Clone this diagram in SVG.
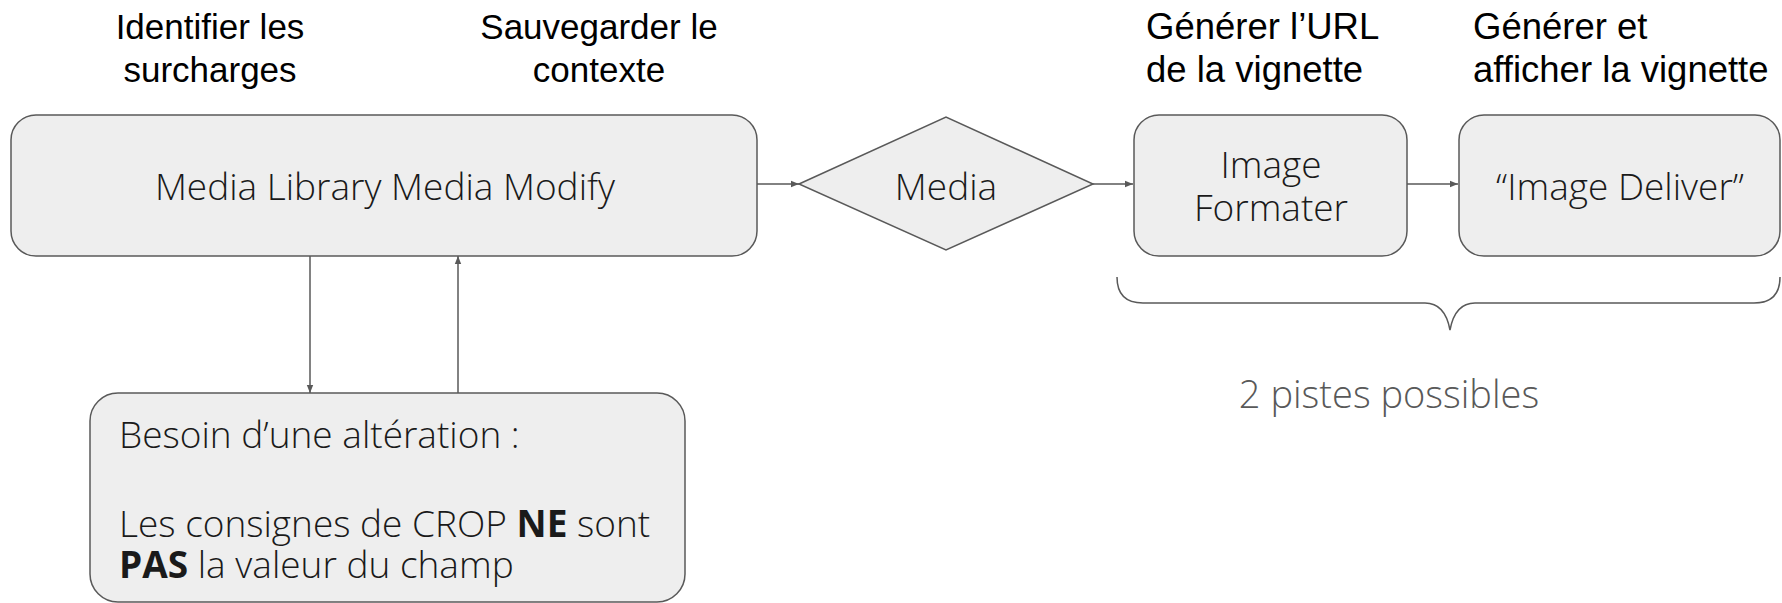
<svg xmlns="http://www.w3.org/2000/svg" width="1782" height="603" viewBox="0 0 1782 603">
<defs>
<style>
.box{fill:#eeeeee;stroke:#595959;stroke-width:1.5}
.ttl{font-family:"Liberation Sans",Arial,sans-serif;font-size:35px;fill:#000}
.ttr{font-family:"Liberation Sans",Arial,sans-serif;font-size:36.5px;fill:#000}
.lbl{font-family:"Open Sans","Noto Sans",sans-serif;font-weight:300;font-size:37px;fill:#1a1a1a}
.note{font-family:"Open Sans","Noto Sans",sans-serif;font-weight:300;font-size:38px;fill:#595959}
.con{stroke:#595959;stroke-width:1.5;fill:none}
</style>
<marker id="ah" viewBox="0 0 10 10" refX="10" refY="5" markerWidth="8" markerHeight="8" markerUnits="userSpaceOnUse" orient="auto"><path d="M0,1 L10,5 L0,9 Z" fill="#595959"/></marker>
</defs>
<rect width="1782" height="603" fill="#fff"/>
<g id="titles">
<text class="ttl" text-anchor="middle" x="210" y="39">Identifier les</text>
<text class="ttl" text-anchor="middle" x="210" y="82">surcharges</text>
<text class="ttl" text-anchor="middle" x="599" y="39">Sauvegarder le</text>
<text class="ttl" text-anchor="middle" x="599" y="82">contexte</text>
<text class="ttr" x="1146" y="39">Générer l’URL</text>
<text class="ttr" x="1473" y="39">Générer et</text>
<text class="ttr" x="1146" y="82">de la vignette</text>
<text class="ttr" x="1473" y="82">afficher la vignette</text>
</g>
<g id="connectors">
<line class="con" x1="757" y1="184" x2="799" y2="184" marker-end="url(#ah)"/>
<line class="con" x1="1093" y1="184" x2="1133" y2="184" marker-end="url(#ah)"/>
<line class="con" x1="1407" y1="184" x2="1458" y2="184" marker-end="url(#ah)"/>
<line class="con" x1="310" y1="256" x2="310" y2="393" marker-end="url(#ah)"/>
<line class="con" x1="458" y1="393" x2="458" y2="256" marker-end="url(#ah)"/>
</g>
<g id="media-library">
<rect class="box" x="11" y="115" width="746" height="141" rx="25"/>
<text class="lbl" text-anchor="middle" x="385" y="200">Media Library Media Modify</text>
</g>
<g id="media">
<polygon class="box" points="799,184 946,117 1093,184 946,250"/>
<text class="lbl" text-anchor="middle" x="946" y="200">Media</text>
</g>
<g id="image-formater">
<rect class="box" x="1134" y="115" width="273" height="141" rx="25"/>
<text class="lbl" text-anchor="middle" x="1271" y="178">Image</text>
<text class="lbl" text-anchor="middle" x="1271" y="221">Formater</text>
</g>
<g id="image-deliver">
<rect class="box" x="1459" y="115" width="321" height="141" rx="25"/>
<text class="lbl" text-anchor="middle" x="1620" y="200">“Image Deliver”</text>
</g>
<g id="alteration">
<rect class="box" x="90" y="393" width="595" height="209" rx="28"/>
<text class="lbl" x="119" y="448">Besoin d’une altération :</text>
<text class="lbl" x="119" y="537">Les consignes de CROP <tspan font-weight="700">NE</tspan> sont</text>
<text class="lbl" x="119" y="578"><tspan font-weight="700">PAS</tspan> la valeur du champ</text>
</g>
<g id="brace">
<path class="con" d="M1117,277 Q1117,303 1143,303 L1425,303 Q1445,303 1450,330 Q1455,303 1475,303 L1754,303 Q1780,303 1780,277"/>
<text class="note" text-anchor="middle" x="1389" y="408">2 pistes possibles</text>
</g>
</svg>
